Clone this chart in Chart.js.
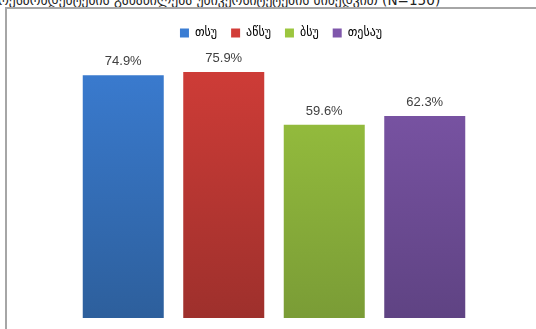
<!DOCTYPE html>
<html>
<head>
<meta charset="utf-8">
<script src="https://cdn.jsdelivr.net/npm/chart.js@4"></script>
<style>
  html, body { margin: 0; padding: 0; background: #fff; overflow: hidden; }
  body { width: 536px; height: 329px; position: relative; }
  #title {
    position: absolute; left: -2px; top: -8px; white-space: nowrap;
    font: 13.6px "DejaVu Sans", "Noto Sans", sans-serif; color: #222;
  }
  #frame {
    position: absolute; left: 5px; top: 7px; width: 560px; height: 340px;
    border-left: 2px solid #a6a6a6; border-top: 2px solid #a6a6a6; box-sizing: border-box;
  }
  #wrap { position: absolute; left: 6px; top: 9px; width: 550px; height: 320px; }
</style>
</head>
<body>
<div id="title">რესპონდენტების განაწილება უნივერსიტეტების მიხედვით (N=150)</div>
<div id="frame"></div>
<div id="wrap"><canvas id="chart"></canvas></div>
<script>
const universities = ['თსუ', 'აწსუ', 'ბსუ', 'თესაუ'];
const shares = [74.9, 75.9, 59.6, 62.3];
const topColors = ['#3b7dd3', '#d23d38', '#9cc63f', '#7f57ab'];
const bottomColors = ['#2d5f9c', '#9e302c', '#7a9c36', '#5f4383'];

function barFill(i) {
  return function (ctx) {
    const area = ctx.chart.chartArea;
    if (!area) return topColors[i];
    const g = ctx.chart.ctx.createLinearGradient(0, area.top, 0, area.bottom);
    g.addColorStop(0, topColors[i]);
    g.addColorStop(1, bottomColors[i]);
    return g;
  };
}

const valueLabels = {
  id: 'valueLabels',
  afterLayout(chart) {
    // legend sits a bit right of the bars in the original
    chart.legend.left += 7;
    chart.legend.right += 7;
  },
  afterDatasetsDraw(chart) {
    const c = chart.ctx;
    c.save();
    c.font = '13px "Liberation Sans", "DejaVu Sans", sans-serif';
    c.fillStyle = '#404040';
    c.textAlign = 'center';
    c.textBaseline = 'bottom';
    chart.data.datasets.forEach((ds, i) => {
      const bar = chart.getDatasetMeta(i).data[0];
      c.fillText(ds.data[0].toFixed(1) + '%', bar.x, bar.y - 7);
    });
    c.restore();
  }
};

new Chart(document.getElementById('chart'), {
  type: 'bar',
  data: {
    labels: [''],
    datasets: universities.map((u, i) => ({
      label: u,
      data: [shares[i]],
      backgroundColor: barFill(i),
      borderWidth: 0,
      categoryPercentage: 1,
      barPercentage: 0.806
    }))
  },
  options: {
    responsive: true,
    maintainAspectRatio: false,
    animation: false,
    layout: { padding: { left: 67, right: 81, top: 4, bottom: 11 } },
    plugins: {
      legend: {
        position: 'top',
        labels: {
          boxWidth: 9, boxHeight: 9, padding: 14,
          color: '#222',
          font: { family: '"DejaVu Sans", "Noto Sans", sans-serif', size: 12 },
          generateLabels(chart) {
            return universities.map((u, i) => ({
              text: u, fillStyle: topColors[i], strokeStyle: topColors[i],
              lineWidth: 0, datasetIndex: i
            }));
          }
        }
      },
      tooltip: { enabled: false }
    },
    scales: {
      x: { display: false },
      y: { display: false, min: 0, max: 83 }
    }
  },
  plugins: [valueLabels]
});
</script>
</body>
</html>
